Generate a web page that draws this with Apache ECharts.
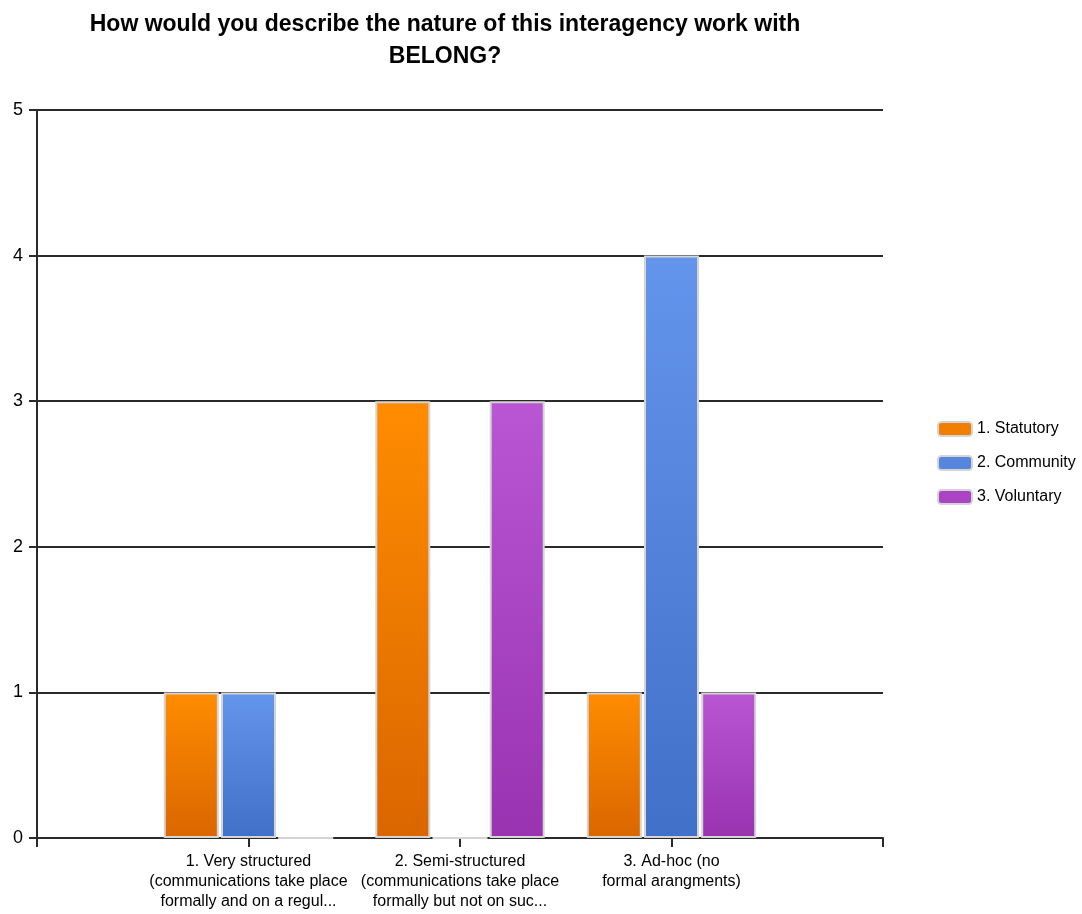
<!DOCTYPE html>
<html><head><meta charset="utf-8">
<script src="https://cdn.jsdelivr.net/npm/echarts@6/dist/echarts.min.js"></script>
<style>html,body{margin:0;padding:0;background:#fff}#c{width:1082px;height:914px}</style>
</head><body><div id="c"></div>
<script>
const titleText = 'How would you describe the nature of this interagency work with\nBELONG?';
const categories = ['', '1. Very structured\n(communications take place\nformally and on a regul...', '2. Semi-structured\n(communications take place\nformally but not on suc...', '3. Ad-hoc (no\nformal arangments)', ''];
const seriesNames = ['1. Statutory', '2. Community', '3. Voluntary'];
const statutory = [null, 1, 3, 1, null];
const community = [null, 1, 0, 4, null];
const voluntary = [null, 0, 3, 1, null];
const yTicks = [0, 1, 2, 3, 4, 5];

const FONT = '"Liberation Sans Narrow", "Arial Narrow", "Liberation Sans", Arial, sans-serif';
function grad(top, bottom) {
  return new echarts.graphic.LinearGradient(0, 0, 0, 1, [{offset: 0, color: top}, {offset: 1, color: bottom}]);
}
const colors = [grad('#FF8C00', '#DA6600'), grad('#6495ED', '#4070C8'), grad('#BA55D3', '#9933B0')];
const legendColors = ['#F07F00', '#5585DD', '#AA44C4'];
const data = [statutory, community, voluntary];

const chart = echarts.init(document.getElementById('c'), null, {renderer: 'canvas'});
chart.setOption({
  animation: false,
  backgroundColor: '#fff',
  title: {
    text: titleText, left: 440, top: 4, textAlign: 'center',
    textStyle: {fontFamily: FONT, fontWeight: 'bold', fontSize: 23, color: '#000', lineHeight: 32}
  },
  legend: {
    orient: 'vertical', left: 932, top: 416, itemWidth: 34, itemHeight: 14, itemGap: 18,
    textStyle: {fontFamily: FONT, fontSize: 16, color: '#000'},
    data: seriesNames.map((n, i) => ({name: n, itemStyle: {color: legendColors[i], borderColor: '#d4d4d4', borderWidth: 2}}))
  },
  grid: {left: 37, right: 199, top: 110, bottom: 76, containLabel: false},
  xAxis: {
    type: 'category', data: categories, boundaryGap: false,
    axisLine: {lineStyle: {color: '#2a2a2a', width: 2}},
    axisTick: {show: true, length: 9, alignWithLabel: true, lineStyle: {color: '#2a2a2a', width: 2}},
    axisLabel: {interval: 0, fontFamily: FONT, fontSize: 16, color: '#000', lineHeight: 20, margin: 14},
    splitLine: {show: false}
  },
  yAxis: {
    type: 'value', min: yTicks[0], max: yTicks[yTicks.length - 1], interval: 1,
    axisLine: {show: true, lineStyle: {color: '#2a2a2a', width: 2}},
    axisTick: {show: true, length: 8, lineStyle: {color: '#2a2a2a', width: 2}},
    axisLabel: {fontFamily: FONT, fontSize: 18, color: '#000', margin: 14},
    splitLine: {show: true, lineStyle: {color: '#2a2a2a', width: 2}}
  },
  series: data.map((d, i) => ({
    name: seriesNames[i], type: 'bar', data: d,
    barWidth: 55, barGap: '4%',
    itemStyle: {color: colors[i], borderColor: '#d4d4d4', borderWidth: 2},
    emphasis: {disabled: true}
  }))
});
</script></body></html>
